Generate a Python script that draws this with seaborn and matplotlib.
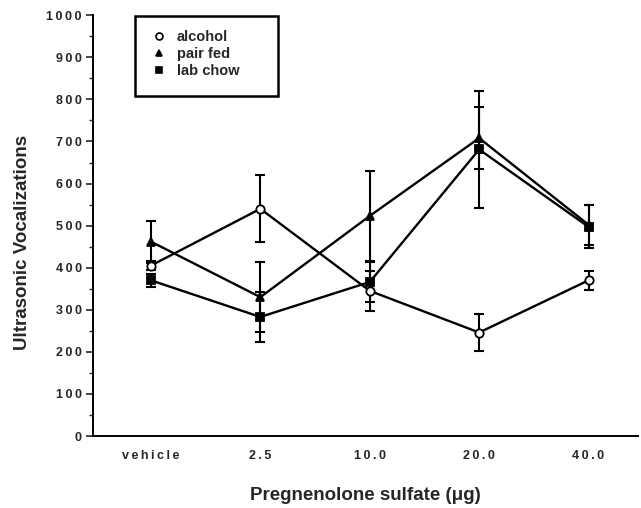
import matplotlib
matplotlib.use("Agg")
import matplotlib.pyplot as plt
from matplotlib.patches import Rectangle
from matplotlib.lines import Line2D
import seaborn as sns
import pandas as pd
import numpy as np

doses = ["vehicle", "2.5", "10.0", "20.0", "40.0"]
groups = ["alcohol", "pair fed", "lab chow"]
alcohol = [405, 540, 345, 246, 370]
alcohol_err = [10, 80, 48, 45, 22]
pair_fed = [462, 330, 523, 708, 502]
pair_fed_err = [50, 83, 107, 73, 47]
lab_chow = [370, 283, 366, 681, 497]
lab_chow_err = [15, 60, 48, 140, 51]
y_ticks = [0, 100, 200, 300, 400, 500, 600, 700, 800, 900, 1000]

sns.set_theme(style="white")
plt.rcParams['font.family'] = ['Liberation Sans', 'DejaVu Sans']

def spaced(s):
    return "\u2009".join(list(s))

rows = []
for g, vals, errs in [("alcohol", alcohol, alcohol_err), ("pair fed", pair_fed, pair_fed_err),
                      ("lab chow", lab_chow, lab_chow_err)]:
    for i, (v, e) in enumerate(zip(vals, errs)):
        rows.append({"pos": i, "dose": doses[i], "group": g, "value": v, "err": e})
df = pd.DataFrame(rows)

fig = plt.figure(figsize=(6.41, 5.08), dpi=100)
ax = fig.add_axes([0.145, 0.1417, 0.85, 0.8283])

marker_map = {"alcohol": "o", "pair fed": "^", "lab chow": "s"}
face_map = {"alcohol": "white", "pair fed": "black", "lab chow": "black"}

for g in groups:
    sub = df[df.group == g]
    ax.errorbar(sub["pos"], sub["value"], yerr=sub["err"], fmt="none", ecolor="black",
                elinewidth=1.5, capsize=3.6, capthick=1.5, zorder=2)

sns.lineplot(data=df, x="pos", y="value", hue="group", palette=["black"] * 3,
             legend=False, linewidth=1.7, ax=ax, zorder=3, errorbar=None)

for g in groups:
    sub = df[df.group == g]
    ax.plot(sub["pos"], sub["value"], linestyle="none", marker=marker_map[g],
            markersize=6, markerfacecolor=face_map[g], markeredgecolor="black",
            markeredgewidth=1.3, zorder=4)

ax.set_xlim(-0.53, 4.45)
ax.set_ylim(0, 1000)
ax.set_xticks(range(len(doses)))
ax.set_xticklabels([spaced(d) for d in doses], fontsize=9, fontweight="bold")
ax.set_yticks(y_ticks)
ax.set_yticklabels([spaced(str(t)) for t in y_ticks], fontsize=9, fontweight="bold")
ax.set_yticks(np.arange(50, 1000, 100), minor=True)
ax.tick_params(axis="y", which="major", direction="out", length=5, width=1.2, left=True, pad=3)
ax.tick_params(axis="y", which="minor", direction="out", length=3, width=1, left=True)
ax.tick_params(axis="x", length=0, pad=10)
for s in ["top", "right"]:
    ax.spines[s].set_visible(False)
for s in ["left", "bottom"]:
    ax.spines[s].set_color("black")
    ax.spines[s].set_linewidth(1.4)

ax.set_xlabel("Pregnenolone sulfate (\u03bcg)", fontsize=13.5, fontweight="bold", labelpad=18)
ax.set_ylabel("Ultrasonic Vocalizations", fontsize=13.5, fontweight="bold", labelpad=12)
ax.yaxis.set_label_coords(-0.113, 0.46)

# legend box
ax.add_patch(Rectangle((0.077, 0.808), 0.262, 0.19, transform=ax.transAxes,
                       fill=False, edgecolor="black", linewidth=1.8, zorder=5, clip_on=False))
handles = [Line2D([], [], linestyle="none", marker=marker_map[g], markersize=5,
                  markerfacecolor=face_map[g], markeredgecolor="black", markeredgewidth=1.2)
           for g in groups]
leg = ax.legend(handles, groups, loc="upper left", bbox_to_anchor=(0.09, 0.99),
                frameon=False, prop={"weight": "bold", "size": 10.5}, handlelength=1.0,
                handletextpad=0.7, labelspacing=0.22, borderpad=0.2)

fig.savefig("out.png", dpi=100)
